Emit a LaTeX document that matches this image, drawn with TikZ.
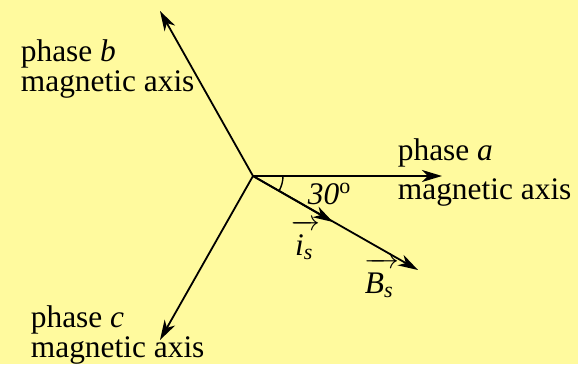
\documentclass[tikz,border=0pt]{standalone}
\usepackage{mathtools}
\usepackage{fontspec}
\setmainfont{Liberation Serif}
\usepackage{tikz}
\usetikzlibrary{arrows.meta}
\usepackage{xcolor}
\definecolor{paper}{HTML}{FFFA9E}
\newcommand{\vecsym}[3]{$\overrightarrow{\rule{0pt}{12.5pt}\textit{#1}_{\textit{#2}}\kern#3}$}% #1 letter, #2 index, #3 extra arrow length

\begin{document}
\begin{tikzpicture}[x=0.5pt,y=-0.5pt,line width=0.9pt,
    every node/.style={font=\fontsize{15.7}{12.5}\selectfont, inner sep=0pt, anchor=base west},
    axis/.style={-{Stealth[length=10pt,width=6pt,inset=3pt]}},
    axlabel/.style={align=left}]
  \fill[paper] (0,0) rectangle (578,364);
  \useasboundingbox (0,0) rectangle (578,364);
  % axes
  \coordinate (O) at (253,176);
  \coordinate (A) at (442,176);
  \coordinate (B) at (160,11);
  \coordinate (C) at (160,340);
  \draw[axis] (O) -- (A);
  \draw[axis] (O) -- (B);
  \draw[axis] (O) -- (C);
  % space vectors
  \coordinate (Is) at (333,222);
  \coordinate (Bs) at (418,270);
  \draw[axis] (O) -- (Is);
  \draw[axis] (O) -- (Bs);
  \draw[line width=0.7pt] (O) ++(30,0) arc[start angle=0, end angle=30, radius=30];
  % labels (base = last line)
  \node[axlabel] (la) at (397,199) {phase \textit{a}\\[4.5pt]magnetic axis};
  \node[axlabel] (lb) at (20,91) {phase \textit{b}\\magnetic axis};
  \node[axlabel] (lc) at (30,357) {phase \textit{c}\\magnetic axis};
  \node (ang) at (307,204) {\textit{30}\textsuperscript{o}};
  \node (is) at (291,255) {\vecsym{i}{s}{2pt}};
  \node (bs) at (364,293) {\vecsym{B}{s}{3pt}};
\end{tikzpicture}
\end{document}
